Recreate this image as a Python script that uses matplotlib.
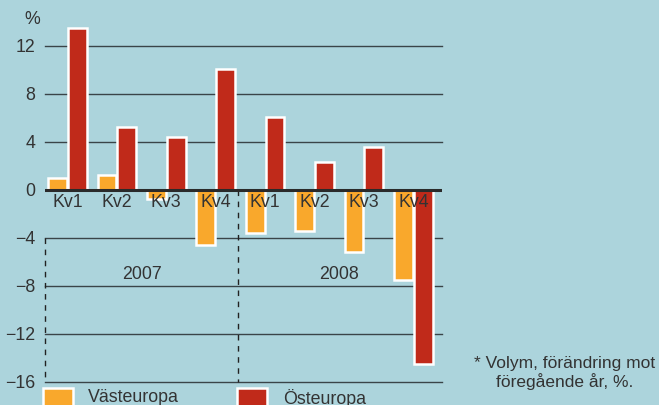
import matplotlib
matplotlib.use("Agg")
import matplotlib.pyplot as plt
from matplotlib.patches import Rectangle
import numpy as np

plt.rcParams['font.family'] = ['Liberation Sans', 'DejaVu Sans']

quarters = ["Kv1", "Kv2", "Kv3", "Kv4", "Kv1", "Kv2", "Kv3", "Kv4"]
years = ["2007", "2008"]
vast = [1.0, 1.25, -0.8, -4.6, -3.6, -3.4, -5.2, -7.5]
ost = [13.5, 5.25, 4.4, 10.1, 6.1, 2.35, 3.6, -14.5]
yticks = [12, 8, 4, 0, -4, -8, -12, -16]
ytick_labels = ["12", "8", "4", "0", "\u22124", "\u22128", "\u221212", "\u221216"]
series_names = ["Västeuropa", "Östeuropa"]
footnote = "* Volym, förändring mot\nföregående år, %."

bg = "#acd4dc"
orange = "#f9a82c"
red = "#c02a1a"
txt = "#333333"
fs = 12.8

fig = plt.figure(figsize=(6.59, 4.05), dpi=100, facecolor=bg)
ax = fig.add_axes([45/659, (405-381.7)/405, (442-45)/659, (381.7-22)/405])
ax.set_facecolor(bg)
xmin, xmax = -0.455, 7.58
ax.set_xlim(xmin, xmax)
ax.set_ylim(-16, 14)
for s in ax.spines.values():
    s.set_visible(False)

x = np.arange(len(quarters))
w = 0.38
off = 0.2
ax.bar(x - off, vast, w, color=orange, edgecolor="white", linewidth=1.8, zorder=2)
ax.bar(x + off, ost, w, color=red, edgecolor="white", linewidth=1.8, zorder=2)

for t in yticks:
    if t == 0:
        ax.axhline(0, color="#2a2a2a", lw=2.2, zorder=3)
    else:
        ax.axhline(t, color="#3a4448", lw=1.0, zorder=1, clip_on=False)

ax.set_yticks(yticks)
ax.set_yticklabels(ytick_labels, fontsize=fs, color=txt)
ax.tick_params(axis="y", length=0, pad=7)
ax.set_xticks([])

for xi, q in zip(x, quarters):
    ax.text(xi, -0.35, q, ha="center", va="top", fontsize=fs, color=txt, zorder=4)

ax.text(1.5, -7.1, years[0], ha="center", va="center", fontsize=fs, color=txt)
ax.text(5.5, -7.1, years[1], ha="center", va="center", fontsize=fs, color=txt)

ax.plot([xmin, xmin], [-4, -16], color="#222222", lw=1.0, ls=(0, (4, 4)), zorder=1, clip_on=False)
ax.plot([3.45, 3.45], [0, -16], color="#222222", lw=1.0, ls=(0, (4, 4)), zorder=1, clip_on=False)

fig.text(32/659, 1 - 20/405, "%", ha="center", va="center", fontsize=fs, color=txt)

# legend
for xl, col, name, xt in [(43, orange, series_names[0], 88), (237, red, series_names[1], 283)]:
    fig.patches.append(Rectangle((xl/659, -10/405), 30/659, (405-388+10)/405,
                                 transform=fig.transFigure, facecolor=col,
                                 edgecolor="white", linewidth=1.8))
    fig.text(xt/659, 1 - 398/405, name, ha="left", va="center", fontsize=fs, color=txt)

fig.text(565/659, 1 - 373/405, footnote, ha="center", va="center", fontsize=12.5,
         color=txt, linespacing=1.15)

fig.savefig("out.png", dpi=100, facecolor=bg)
